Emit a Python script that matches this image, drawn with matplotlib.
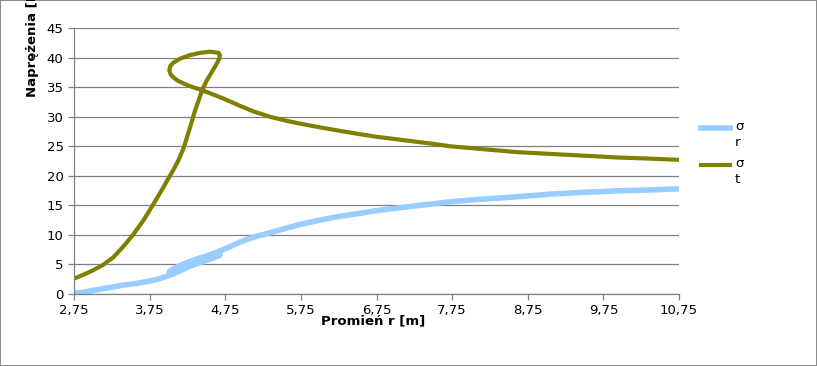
import matplotlib.pyplot as plt
from matplotlib.lines import Line2D
from matplotlib.ticker import FixedLocator

# promien r [m] (points in the order of the series, the loop goes back in r)
r = [2.75, 2.9, 3.0, 3.13, 3.27, 3.40, 3.53, 3.67, 3.80, 3.93, 4.00, 4.06, 4.13, 4.20,
     4.28, 4.35, 4.44, 4.50, 4.57, 4.63, 4.67, 4.68, 4.66, 4.55, 4.42, 4.28, 4.15,
     4.06, 4.02, 4.01, 4.03, 4.06, 4.12, 4.20, 4.32, 4.44, 4.58, 4.72, 4.95, 5.12,
     5.35, 5.56, 5.75, 6.0, 6.22, 6.5, 6.75, 7.0, 7.25, 7.5, 7.72, 8.16, 8.61,
     9.05, 9.49, 9.93, 10.37, 10.75]

sigma_r = [0.1, 0.35, 0.6, 0.9, 1.2, 1.5, 1.7, 2.0, 2.3, 2.8, 3.1, 3.4, 3.8, 4.2,
           4.7, 5.0, 5.4, 5.7, 6.0, 6.3, 6.5, 6.6, 6.7, 6.5, 6.1, 5.5, 4.8,
           4.2, 3.9, 3.7, 3.8, 4.0, 4.3, 4.8, 5.5, 6.1, 6.8, 7.5, 8.8, 9.6,
           10.4, 11.15, 11.8, 12.5, 13.05, 13.6, 14.1, 14.5, 14.9, 15.25, 15.6, 16.05, 16.45,
           16.9, 17.2, 17.45, 17.6, 17.8]

sigma_t = [2.6, 3.4, 4.0, 4.9, 6.2, 8.0, 10.0, 12.5, 15.2, 18.0, 19.6, 20.9, 22.6, 24.7,
           28.0, 31.0, 34.3, 36.0, 37.5, 38.8, 39.8, 40.4, 40.8, 41.0, 40.8, 40.4, 39.8,
           39.1, 38.5, 37.8, 37.1, 36.7, 36.1, 35.6, 35.0, 34.5, 33.8, 33.1, 31.8, 30.9,
           29.95, 29.3, 28.8, 28.2, 27.7, 27.1, 26.6, 26.2, 25.8, 25.4, 25.0, 24.5, 24.0,
           23.7, 23.4, 23.1, 22.9, 22.7]

x_ticks = [2.75, 3.75, 4.75, 5.75, 6.75, 7.75, 8.75, 9.75, 10.75]
x_labels = ["2,75", "3,75", "4,75", "5,75", "6,75", "7,75", "8,75", "9,75", "10,75"]

blue = "#99ccff"
olive = "#808000"

fig = plt.figure(figsize=(8.17, 3.66), dpi=100, edgecolor="#8c8c8c", linewidth=1.2)
ax = fig.add_axes([74/817, 1-294/366, 605/817, 266/366])

ax.plot(r, sigma_r, color=blue, lw=4.0, solid_joinstyle="round", solid_capstyle="round")
ax.plot(r, sigma_t, color=olive, lw=3.0, solid_joinstyle="round", solid_capstyle="round")

ax.set_xlim(2.75, 10.75)
ax.set_ylim(0, 45)
ax.xaxis.set_major_locator(FixedLocator(x_ticks))
ax.set_xticklabels(x_labels)
ax.set_yticks(range(0, 46, 5))
ax.yaxis.grid(True, color="#808080", lw=0.9)
ax.set_axisbelow(True)
for s in ["top", "right"]:
    ax.spines[s].set_visible(False)
for s in ["left", "bottom"]:
    ax.spines[s].set_color("#808080")
    ax.spines[s].set_linewidth(0.9)
ax.tick_params(colors="#808080", labelcolor="black", labelsize=9.5, length=4, width=0.9)

fig.text(373/817, 1-321/366, "Promień r [m]", fontsize=9.5, fontweight="bold",
         ha="center", va="center")
fig.text(33/817, 1-97/366, "Naprężenia [MPa]", fontsize=9.5, fontweight="bold",
         ha="center", va="bottom", rotation=90)

# legend drawn by hand so the line sits next to the first row of the label
for y, c, w, lab in [(128, blue, 4.0, "σ\nr"), (165, olive, 3.0, "σ\nt")]:
    fig.add_artist(Line2D([701/817, 730/817], [1-y/366, 1-y/366], color=c, lw=w,
                          transform=fig.transFigure))
    fig.text(735/817, 1-(y-8)/366, lab, fontsize=9.5, ha="left", va="top", linespacing=1.3)

fig.savefig("out.png", dpi=100, edgecolor=fig.get_edgecolor())
